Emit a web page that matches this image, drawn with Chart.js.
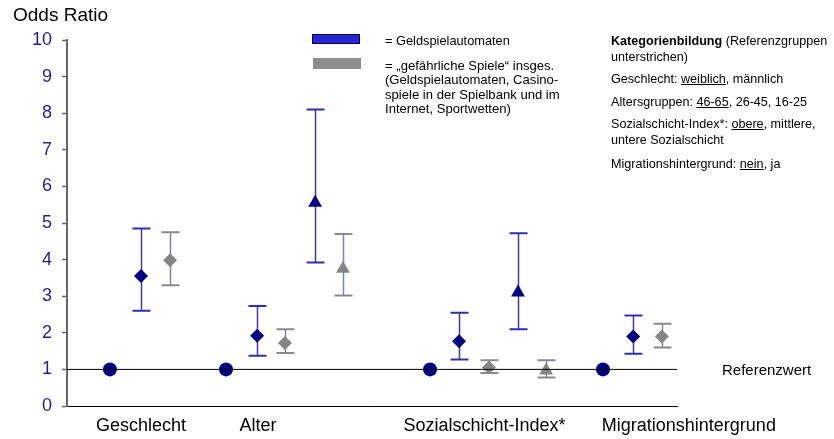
<!DOCTYPE html>
<html>
<head>
<meta charset="utf-8">
<script src="https://cdn.jsdelivr.net/npm/chart.js@4/dist/chart.umd.min.js"></script>
<style>
body { margin: 0; background: #fff; font-family: "Liberation Sans", Arial, sans-serif; }
#wrap { position: relative; width: 834px; height: 439px; }
.t { position: absolute; font-size: 12.8px; color: #000; line-height: 15.6px; white-space: nowrap; }
.r { font-size: 12.6px; line-height: 16px; }
.sw { position: absolute; box-sizing: border-box; }
</style>
</head>
<body>
<div id="wrap">
<canvas id="c" width="834" height="439"></canvas>
<div class="t" style="left:13px;top:4px;font-size:19px;line-height:22px">Odds Ratio</div>

<div class="sw" style="left:312px;top:34px;width:48px;height:10px;background:#2727d2;border:1px solid #00005a"></div>
<div class="sw" style="left:313px;top:58px;width:48px;height:11px;background:#8c8c8c"></div>
<div class="t" style="left:385px;top:33px">= Geldspielautomaten</div>
<div class="t" style="left:385px;top:58.5px;font-size:13.1px;line-height:14.6px">= „gefährliche Spiele“ insges.<br>(Geldspielautomaten, Casino-<br>spiele in der Spielbank und im<br>Internet, Sportwetten)</div>

<div class="t r" style="left:611px;top:33px">
<b>Kategorienbildung</b> (Referenzgruppen<br>unterstrichen)</div>
<div class="t r" style="left:611px;top:71px">Geschlecht: <u>weiblich</u>, männlich</div>
<div class="t r" style="left:611px;top:94px">Altersgruppen: <u>46-65</u>, 26-45, 16-25</div>
<div class="t r" style="left:611px;top:116px">Sozialschicht-Index*: <u>obere</u>, mittlere,<br>untere Sozialschicht</div>
<div class="t r" style="left:611px;top:156px">Migrationshintergrund: <u>nein</u>, ja</div>
<div class="t" style="left:722px;top:361px;font-size:15px;line-height:18px">Referenzwert</div>
</div>
<script>
// Gruppen und Position der Beschriftung
const groups = ["Geschlecht", "Alter", "Sozialschicht-Index*", "Migrationshintergrund"];
const groupPos = [2.5, 6.45, 14.1, 21.0];
const yTicks = [0, 1, 2, 3, 4, 5, 6, 7, 8, 9, 10];

// Referenzgruppen (OR = 1)
const refPos = [1.45, 5.37, 12.26, 18.1];
const refOR = [1, 1, 1, 1];

// Geldspielautomaten, Raute
const gsaDiaPos = [2.5, 6.42, 13.24, 19.12];
const gsaDia = [3.55, 1.92, 1.77, 1.9];
const gsaDiaLo = [2.6, 1.37, 1.27, 1.43];
const gsaDiaHi = [4.85, 2.73, 2.55, 2.47];

// gefaehrliche Spiele, Raute
const gefDiaPos = [3.48, 7.36, 14.25, 20.09];
const gefDia = [3.98, 1.72, 1.05, 1.9];
const gefDiaLo = [3.3, 1.45, 0.9, 1.6];
const gefDiaHi = [4.75, 2.1, 1.25, 2.25];

// Geldspielautomaten, Dreieck (2. Kategorie)
const gsaTriPos = [8.38, 15.23];
const gsaTri = [5.55, 3.1];
const gsaTriLo = [3.92, 2.1];
const gsaTriHi = [8.1, 4.72];

// gefaehrliche Spiele, Dreieck
const gefTriPos = [9.32, 16.18];
const gefTri = [3.75, 0.97];
const gefTriLo = [3.02, 0.78];
const gefTriHi = [4.7, 1.25];

const NAVY = "#000080", GREY = "#858585";

function pts(xs, ys) { return xs.map((x, i) => ({x: x, y: ys[i]})); }

function ds(xs, ys, lo, hi, style, r, col, barCol, capCol) {
    return {
        data: pts(xs, ys),
        pointStyle: style,
        pointRadius: r,
        pointBackgroundColor: col,
        pointBorderColor: col,
        pointBorderWidth: 0,
        showLine: false,
        lo: lo, hi: hi, barCol: barCol, capCol: capCol
    };
}

const errorBars = {
    id: "errorBars",
    beforeDatasetsDraw(chart) {
        const ctx = chart.ctx, xs = chart.scales.x, ys = chart.scales.y;
        chart.data.datasets.forEach(d => {
            if (!d.lo) return;
            d.data.forEach((p, i) => {
                const x = Math.round(xs.getPixelForValue(p.x)) + 0.5;
                const yl = ys.getPixelForValue(d.lo[i]);
                const yh = ys.getPixelForValue(d.hi[i]);
                ctx.save();
                ctx.strokeStyle = d.barCol;
                ctx.lineWidth = 1.5;
                ctx.beginPath(); ctx.moveTo(x, yl); ctx.lineTo(x, yh); ctx.stroke();
                ctx.strokeStyle = d.capCol;
                ctx.lineWidth = 2;
                ctx.beginPath();
                ctx.moveTo(x - 9, yl); ctx.lineTo(x + 9, yl);
                ctx.moveTo(x - 9, yh); ctx.lineTo(x + 9, yh);
                ctx.stroke();
                ctx.restore();
            });
        });
    },
    afterDraw(chart) {
        const ctx = chart.ctx, xs = chart.scales.x;
        ctx.save();
        ctx.font = "18px 'Liberation Sans', Arial, sans-serif";
        ctx.fillStyle = "#000";
        ctx.textAlign = "center";
        ctx.textBaseline = "middle";
        groups.forEach((g, i) => ctx.fillText(g, xs.getPixelForValue(groupPos[i]), 426));
        ctx.restore();
    }
};

new Chart(document.getElementById("c"), {
    type: "scatter",
    data: {
        datasets: [
            {
                type: "line",
                data: [{x: 0, y: 1}, {x: 20.6, y: 1}],
                borderColor: "#000",
                borderWidth: 1,
                pointRadius: 0
            },
            ds(gefDiaPos, gefDia, gefDiaLo, gefDiaHi, "rectRot", 7, GREY, "#7a82b8", "#8a8a8a"),
            ds(gefTriPos, gefTri, gefTriLo, gefTriHi, "triangle", 8, GREY, "#7a82b8", "#8a8a8a"),
            ds(gsaDiaPos, gsaDia, gsaDiaLo, gsaDiaHi, "rectRot", 7, NAVY, "#3a3ab0", "#2e2ea8"),
            ds(gsaTriPos, gsaTri, gsaTriLo, gsaTriHi, "triangle", 8, NAVY, "#3a3ab0", "#2e2ea8"),
            ds(refPos, refOR, null, null, "circle", 7, NAVY)
        ]
    },
    options: {
        responsive: false,
        animation: false,
        layout: { padding: { left: 0, right: 157, top: 40, bottom: 0 } },
        plugins: { legend: { display: false }, tooltip: { enabled: false } },
        scales: {
            x: {
                type: "linear",
                min: 0,
                max: 20.6,
                ticks: { display: false },
                grid: { display: false },
                border: { color: "#000", width: 1 },
                afterFit(s) { s.height = 33; }
            },
            y: {
                min: 0,
                max: 10,
                afterBuildTicks(s) { s.ticks = yTicks.map(v => ({value: v})); },
                ticks: {
                    color: "#1f1f8f",
                    padding: 10,
                    font: { family: "'Liberation Sans', Arial, sans-serif", size: 18 }
                },
                grid: { drawOnChartArea: false, drawTicks: true, tickLength: 5, tickColor: "#666", tickWidth: 1.5 },
                border: { color: "#666", width: 2 },
                afterFit(s) { s.width = 67; }
            }
        }
    },
    plugins: [errorBars]
});
</script>
</body>
</html>
